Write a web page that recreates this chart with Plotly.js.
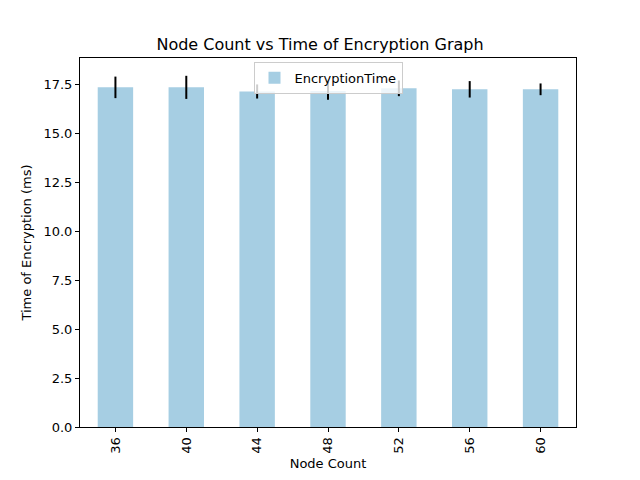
<!DOCTYPE html>
<html>
<head>
<meta charset="utf-8">
<script src="https://cdn.plot.ly/plotly-3.0.1.min.js"></script>
<style>html,body{margin:0;padding:0;background:#fff;}#chart{width:640px;height:480px;}</style>
</head>
<body>
<div id="chart"></div>
<script>
const nodeCounts = ["36", "40", "44", "48", "52", "56", "60"];
const encryptionTime = [17.35, 17.35, 17.14, 17.17, 17.3, 17.25, 17.25];
const encryptionErr = [0.55, 0.59, 0.36, 0.45, 0.4, 0.42, 0.3];

const trace = {
  type: 'bar',
  x: nodeCounts,
  y: encryptionTime,
  name: 'EncryptionTime',
  width: 0.5,
  marker: {color: '#a6cee3'},
  error_y: {type: 'data', array: encryptionErr, visible: true, color: '#000000', thickness: 2, width: 0}
};

const layout = {
  width: 640, height: 480,
  margin: {l: 80, r: 64, t: 58, b: 53},
  paper_bgcolor: '#ffffff', plot_bgcolor: '#ffffff',
  font: {family: 'DejaVu Sans', size: 13, color: '#000'},
  title: {text: 'Node Count vs Time of Encryption Graph', font: {family: 'DejaVu Sans', size: 16, color: '#000'}, x: 0.5, xanchor: 'center', y: 1 - 50/480, yanchor: 'bottom'},
  showlegend: true,
  legend: {x: 0.5, xanchor: 'center', y: 0.99, yanchor: 'top', bgcolor: 'rgba(255,255,255,0.8)', bordercolor: '#cccccc', borderwidth: 1, itemwidth: 30, font: {family: 'DejaVu Sans', size: 13, color: '#000'}},
  xaxis: {
    type: 'category', range: [-0.5, 6.5],
    title: {text: 'Node Count', font: {family: 'DejaVu Sans', size: 13, color: '#000'}, standoff: 6},
    tickangle: -90, ticks: 'outside', ticklen: 4, tickcolor: '#000', tickfont: {family: 'DejaVu Sans', size: 13, color: '#000'},
    showline: true, linecolor: '#000', linewidth: 1, mirror: true, showgrid: false, zeroline: false
  },
  yaxis: {
    range: [0, 18.85],
    tickvals: [0, 2.5, 5, 7.5, 10, 12.5, 15, 17.5],
    ticktext: ['0.0', '2.5', '5.0', '7.5', '10.0', '12.5', '15.0', '17.5'],
    title: {text: 'Time of Encryption (ms)', font: {family: 'DejaVu Sans', size: 13, color: '#000'}, standoff: 8},
    ticks: 'outside', ticklen: 4, tickcolor: '#000', tickfont: {family: 'DejaVu Sans', size: 13, color: '#000'},
    showline: true, linecolor: '#000', linewidth: 1, mirror: true, showgrid: false, zeroline: false
  }
};
Plotly.newPlot('chart', [trace], layout, {staticPlot: true});
</script>
</body>
</html>
